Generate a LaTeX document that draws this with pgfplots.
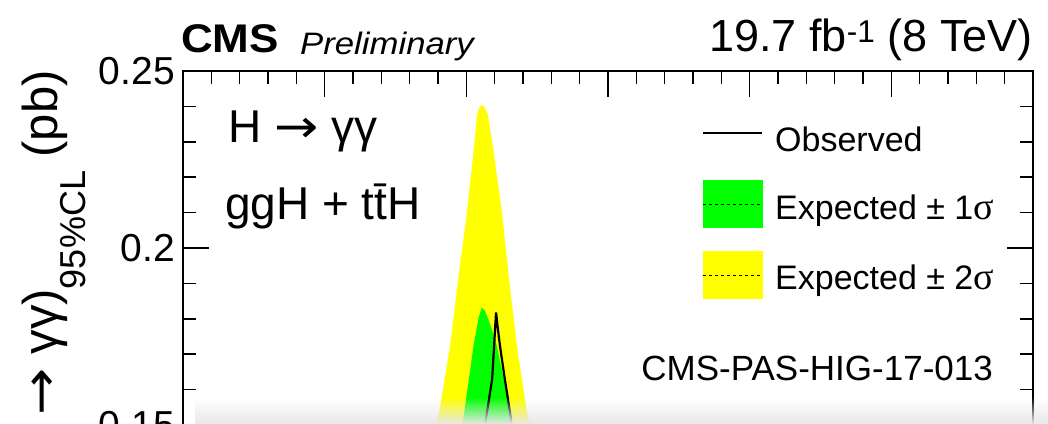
\documentclass[border=0pt]{standalone}
\usepackage{fontspec}
\setmainfont{Liberation Sans}
\newfontfamily\symfont{Liberation Serif}
\newfontfamily\arrowfont{DejaVu Sans}
\usepackage{graphicx}
\usepackage{pgfplots}
\pgfplotsset{compat=1.18}
\usetikzlibrary{fadings}
\definecolor{bandyellow}{RGB}{255,255,0}
\definecolor{bandgreen}{RGB}{0,255,0}
\newcommand{\rarr}{{\arrowfont\scalebox{1.15}[1]{→}}}
\begin{document}
\begin{tikzpicture}
\begin{axis}[
  at={(183pt,352pt)}, anchor=north west,
  scale only axis, width=850pt, height=389.4pt,
  xmin=80, xmax=110, ymin=0.14, ymax=0.25,
  xtick={80,85,...,110}, minor x tick num=4, xticklabel=\empty,
  ytick={0.15,0.2,0.25}, yticklabels={0.15,0.2,0.25}, minor y tick num=4,
  tick align=inside,
  major tick length=26pt, minor tick length=13pt,
  axis line style={line width=1.6pt},
  every tick/.style={black, line width=1.6pt},
  yticklabel style={font=\fontsize{39}{39}\selectfont, inner sep=0pt, xshift=-8pt},
  /pgf/number format/assume math mode=true,
  clip=true,
]
% Expected +/- 2 sigma band (upper edge visible)
\addplot[fill=bandyellow, draw=none] coordinates {
 (88.5,0.10) (88.80,0.145) (89.04,0.1535) (89.42,0.172) (89.71,0.191)
 (90.02,0.210) (90.27,0.2286) (90.38,0.2376) (90.47,0.2398) (90.55,0.2404)
 (90.64,0.2398) (90.76,0.2376) (90.94,0.2286) (91.26,0.210) (91.51,0.191)
 (91.79,0.172) (92.14,0.1535) (92.40,0.145) (92.8,0.10)} --cycle;
% Expected +/- 1 sigma band
\addplot[fill=bandgreen, draw=none] coordinates {
 (89.3,0.10) (89.62,0.14) (89.89,0.1516) (90.09,0.1629) (90.25,0.1722)
 (90.42,0.1798) (90.54,0.1832) (90.66,0.1822) (90.78,0.1798) (90.90,0.1770)
 (91.08,0.1722) (91.33,0.1629) (91.57,0.1516) (91.72,0.14) (92.0,0.10)} --cycle;
% Observed
\addplot[black, line width=2.2pt] coordinates {
 (90.50,0.12) (90.62,0.14) (90.69,0.1516) (90.91,0.1629) (90.98,0.1722)
 (91.02,0.1780) (91.05,0.1818) (91.10,0.1780) (91.19,0.1722) (91.36,0.1629)
 (91.58,0.1516) (91.66,0.14) (91.80,0.12)};
\end{axis}
% header
\node[anchor=base west, inner sep=0pt] at (181pt,370pt)
  {\scalebox{1.1}[1]{\fontsize{40}{40}\selectfont\bfseries CMS}};
\node[anchor=base west, inner sep=0pt] at (300pt,368pt)
  {\scalebox{1.12}[1]{\fontsize{31}{31}\selectfont\itshape Preliminary}};
\node[anchor=base east, inner sep=0pt] at (1033pt,371pt)
  {\fontsize{45}{45}\selectfont 19.7 fb\textsuperscript{-1} (8 TeV)};
% y label
\node[rotate=90, anchor=base east, inner sep=0pt] at (57pt,353pt)
  {\fontsize{49}{49}\selectfont σ(pp \rarr{} H \rarr{} γγ)\raisebox{-28pt}{\fontsize{36}{36}\selectfont 95\%CL} (pb)};
% in-plot text
\node[anchor=base west, inner sep=0pt] at (228pt,280pt)
  {\fontsize{46}{46}\selectfont H \rarr{} γγ};
\node[anchor=base west, inner sep=0pt] at (225pt,203pt)
  {\fontsize{46}{46}\selectfont ggH + t\=tH};
% legend
\draw[black, line width=1.6pt] (703pt,290pt) -- (762pt,290pt);
\node[anchor=base west, inner sep=0pt] at (775pt,271pt)
  {\fontsize{34}{34}\selectfont Observed};
\fill[bandgreen] (703pt,195pt) rectangle (763pt,243pt);
\draw[black, dashed, line width=0.8pt] (703pt,219pt) -- (763pt,219pt);
\node[anchor=base west, inner sep=0pt] at (775pt,203pt)
  {\fontsize{34}{34}\selectfont Expected ± 1{\symfont\fontsize{38}{38}\selectfont σ}};
\fill[bandyellow] (703pt,124pt) rectangle (763pt,172pt);
\draw[black, dashed, line width=0.8pt] (703pt,148pt) -- (763pt,148pt);
\node[anchor=base west, inner sep=0pt] at (775pt,133pt)
  {\fontsize{34}{34}\selectfont Expected ± 2{\symfont\fontsize{38}{38}\selectfont σ}};
\node[anchor=base east, inner sep=0pt] at (993pt,43pt)
  {\fontsize{35}{35}\selectfont CMS-PAS-HIG-17-013};
% bottom shadow
\fill[black!9, path fading=north] (195pt,-1pt) rectangle (1048pt,26pt);
\pgfresetboundingbox
\useasboundingbox (0,0) rectangle (1048pt,423pt);
\end{tikzpicture}
\end{document}
